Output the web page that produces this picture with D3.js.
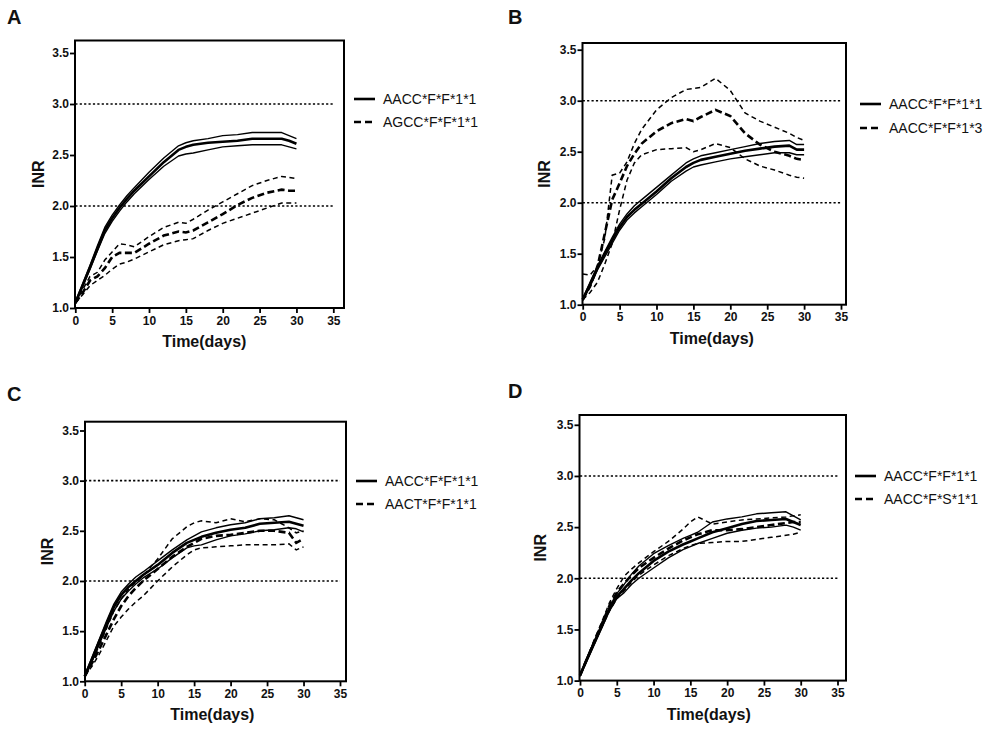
<!DOCTYPE html>
<html>
<head>
<meta charset="utf-8">
<script src="https://cdn.jsdelivr.net/npm/d3@7"></script>
<style>
  html, body { margin: 0; padding: 0; background: #fff; }
  svg { display: block; }
  text { font-family: "Liberation Sans", Arial, Helvetica, sans-serif; fill: #111; }
</style>
</head>
<body>
<svg id="chart" width="993" height="730"></svg>
<script>
// ---------------- DATA ----------------
const days = [0,1,2,3,4,5,6,7,8,10,12,14,15,16,18,20,22,24,26,28,29,30];
const xTicks = [0,5,10,15,20,25,30,35];
const yTicks = [1.0,1.5,2.0,2.5,3.0,3.5];
const refLines = [2.0, 3.0];
const panelLetters = ["A","B","C","D"];
const legendSolid = ["AACC*F*F*1*1","AACC*F*F*1*1","AACC*F*F*1*1","AACC*F*F*1*1"];
const legendDashed = ["AGCC*F*F*1*1","AACC*F*F*1*3","AACT*F*F*1*1","AACC*F*S*1*1"];

// Panel A
const aSolidMid = [1.05,1.22,1.40,1.58,1.76,1.88,1.98,2.07,2.15,2.29,2.43,2.55,2.58,2.60,2.62,2.63,2.64,2.66,2.66,2.66,2.64,2.61];
const aSolidHi  = [1.06,1.24,1.42,1.61,1.79,1.91,2.01,2.10,2.18,2.33,2.47,2.59,2.62,2.64,2.66,2.69,2.70,2.72,2.72,2.72,2.69,2.66];
const aSolidLo  = [1.04,1.21,1.38,1.56,1.73,1.85,1.95,2.04,2.12,2.26,2.39,2.49,2.51,2.52,2.55,2.58,2.59,2.60,2.60,2.60,2.58,2.56];
const aDashMid  = [1.05,1.15,1.27,1.31,1.39,1.50,1.54,1.54,1.54,1.63,1.71,1.75,1.74,1.76,1.84,1.92,2.01,2.08,2.13,2.16,2.15,2.15];
const aDashHi   = [1.05,1.18,1.31,1.35,1.47,1.55,1.63,1.62,1.60,1.70,1.79,1.84,1.83,1.87,1.96,2.04,2.12,2.20,2.25,2.29,2.28,2.27];
const aDashLo   = [1.05,1.13,1.22,1.27,1.32,1.38,1.43,1.45,1.48,1.55,1.62,1.66,1.67,1.68,1.76,1.83,1.88,1.93,1.98,2.03,2.03,2.03];

// Panel B
const bSolidMid = [1.05,1.20,1.36,1.50,1.63,1.76,1.86,1.93,1.99,2.11,2.24,2.35,2.39,2.42,2.45,2.48,2.51,2.53,2.55,2.56,2.52,2.52];
const bSolidHi  = [1.06,1.22,1.38,1.52,1.66,1.79,1.89,1.97,2.03,2.15,2.27,2.39,2.43,2.46,2.49,2.52,2.55,2.58,2.60,2.61,2.57,2.57];
const bSolidLo  = [1.04,1.18,1.34,1.47,1.60,1.73,1.83,1.90,1.96,2.08,2.21,2.31,2.35,2.37,2.40,2.43,2.45,2.47,2.49,2.49,2.47,2.47];
const bDashMid  = [1.05,1.18,1.37,1.70,2.03,2.19,2.36,2.48,2.58,2.70,2.78,2.82,2.80,2.84,2.91,2.85,2.68,2.57,2.50,2.46,2.43,2.42];
const bDashHi   = [1.30,1.29,1.38,1.65,2.27,2.29,2.40,2.58,2.72,2.91,3.03,3.11,3.12,3.13,3.22,3.10,2.88,2.80,2.74,2.68,2.64,2.61];
const bDashLo   = [1.05,1.12,1.22,1.40,1.60,1.93,2.22,2.39,2.47,2.52,2.53,2.54,2.50,2.52,2.58,2.54,2.43,2.36,2.32,2.27,2.25,2.24];

// Panel C
const cSolidMid = [1.05,1.22,1.40,1.57,1.74,1.86,1.94,2.00,2.06,2.16,2.28,2.38,2.41,2.44,2.48,2.51,2.53,2.57,2.58,2.59,2.57,2.55];
const cSolidHi  = [1.06,1.24,1.42,1.60,1.77,1.89,1.97,2.04,2.09,2.20,2.31,2.41,2.45,2.49,2.53,2.56,2.58,2.62,2.63,2.65,2.63,2.61];
const cSolidLo  = [1.04,1.20,1.37,1.54,1.70,1.82,1.90,1.97,2.03,2.12,2.23,2.33,2.35,2.36,2.41,2.45,2.47,2.50,2.51,2.53,2.52,2.49];
const cDashMid  = [1.05,1.18,1.32,1.47,1.62,1.75,1.85,1.93,2.00,2.12,2.24,2.34,2.38,2.42,2.45,2.46,2.48,2.50,2.50,2.48,2.38,2.42];
const cDashHi   = [1.05,1.20,1.36,1.53,1.70,1.82,1.92,1.99,2.05,2.22,2.42,2.54,2.58,2.60,2.58,2.62,2.59,2.62,2.61,2.53,2.48,2.50];
const cDashLo   = [1.05,1.15,1.27,1.41,1.55,1.64,1.72,1.79,1.85,2.00,2.14,2.26,2.31,2.33,2.34,2.35,2.36,2.36,2.36,2.37,2.31,2.34];

// Panel D
const dSolidMid = [1.05,1.22,1.38,1.54,1.70,1.82,1.90,1.98,2.05,2.17,2.26,2.33,2.36,2.39,2.45,2.49,2.53,2.56,2.57,2.58,2.55,2.52];
const dSolidHi  = [1.06,1.23,1.40,1.56,1.72,1.85,1.94,2.04,2.12,2.24,2.32,2.39,2.42,2.45,2.55,2.58,2.60,2.63,2.64,2.65,2.61,2.57];
const dSolidLo  = [1.04,1.20,1.36,1.52,1.68,1.80,1.86,1.94,2.00,2.10,2.20,2.28,2.31,2.34,2.39,2.44,2.47,2.49,2.50,2.52,2.50,2.47];
const dDashMid  = [1.05,1.22,1.39,1.56,1.73,1.86,1.95,2.03,2.10,2.20,2.29,2.37,2.40,2.43,2.47,2.47,2.48,2.50,2.52,2.54,2.55,2.55];
const dDashHi   = [1.05,1.23,1.41,1.58,1.76,1.90,2.02,2.09,2.15,2.26,2.36,2.48,2.55,2.60,2.53,2.55,2.57,2.58,2.59,2.60,2.61,2.62];
const dDashLo   = [1.05,1.21,1.37,1.53,1.68,1.80,1.88,1.96,2.03,2.13,2.22,2.29,2.32,2.34,2.35,2.36,2.36,2.38,2.40,2.42,2.43,2.45];

const panelSeries = [
  {solid:[aSolidMid,aSolidHi,aSolidLo], dash:[aDashMid,aDashHi,aDashLo]},
  {solid:[bSolidMid,bSolidHi,bSolidLo], dash:[bDashMid,bDashHi,bDashLo]},
  {solid:[cSolidMid,cSolidHi,cSolidLo], dash:[cDashMid,cDashHi,cDashLo]},
  {solid:[dSolidMid,dSolidHi,dSolidLo], dash:[dDashMid,dDashHi,dDashLo]}
];

// ---------------- LAYOUT ----------------
const layouts = [
  {x0:75.3, x35:333.3, y1:308,   y35:53,    boxL:75,    boxR:344, boxT:40.5,  letterX:7,   letterY:24,  legX:354, legY:99,  legGap:23, inrX:44},
  {x0:582.7,x35:841,   y1:304.7, y35:49.7,  boxL:582.5, boxR:846, boxT:43,    letterX:508, letterY:24,  legX:860, legY:104, legGap:24, inrX:550},
  {x0:84.7, x35:340,   y1:681.3, y35:430.5, boxL:85,    boxR:346, boxT:421.7, letterX:7,   letterY:401, legX:356, legY:481, legGap:23, inrX:53},
  {x0:580,  x35:837.5, y1:680.6, y35:424.8, boxL:579.5, boxR:846, boxT:415,   letterX:508, letterY:398, legX:855, legY:476, legGap:23, inrX:546}
];

const svg = d3.select("#chart");

layouts.forEach((L, i) => {
  const g = svg.append("g");
  const x = d3.scaleLinear().domain([0, 35]).range([L.x0, L.x35]);
  const y = d3.scaleLinear().domain([1.0, 3.5]).range([L.y1, L.y35]);

  // panel letter
  g.append("text").attr("x", L.letterX).attr("y", L.letterY)
    .style("font-size", "20px").style("font-weight", "bold").text(panelLetters[i]);

  // reference dotted lines
  refLines.forEach(v => {
    g.append("line")
      .attr("x1", x(0)).attr("x2", x(35))
      .attr("y1", y(v)).attr("y2", y(v))
      .attr("stroke", "#000").attr("stroke-width", 1.6)
      .attr("stroke-dasharray", "2.2,2.2");
  });

  // lines
  const line = d3.line().x((d, k) => x(days[k])).y(d => y(d));
  const S = panelSeries[i];
  // CI lines (thin)
  [S.solid[1], S.solid[2]].forEach(arr => {
    g.append("path").attr("d", line(arr)).attr("fill", "none")
      .attr("stroke", "#000").attr("stroke-width", 1.4).attr("stroke-linejoin", "round");
  });
  [S.dash[1], S.dash[2]].forEach(arr => {
    g.append("path").attr("d", line(arr)).attr("fill", "none")
      .attr("stroke", "#000").attr("stroke-width", 1.5).attr("stroke-dasharray", "5,3.5");
  });
  // mean lines (thick)
  g.append("path").attr("d", line(S.solid[0])).attr("fill", "none")
    .attr("stroke", "#000").attr("stroke-width", 2.6).attr("stroke-linejoin", "round");
  g.append("path").attr("d", line(S.dash[0])).attr("fill", "none")
    .attr("stroke", "#000").attr("stroke-width", 2.6).attr("stroke-dasharray", "7,3.5");

  // frame box
  g.append("rect").attr("x", L.boxL).attr("y", L.boxT)
    .attr("width", L.boxR - L.boxL).attr("height", L.y1 - L.boxT)
    .attr("fill", "none").attr("stroke", "#000").attr("stroke-width", 2);

  // axes
  const yAxis = d3.axisLeft(y).tickValues(yTicks).tickFormat(d3.format(".1f")).tickSize(5).tickPadding(1);
  const xAxis = d3.axisBottom(x).tickValues(xTicks).tickFormat(d3.format("d")).tickSize(5).tickPadding(3);
  const ya = g.append("g").attr("transform", `translate(${L.boxL},0)`).call(yAxis);
  const xa = g.append("g").attr("transform", `translate(0,${L.y1})`).call(xAxis);
  [ya, xa].forEach(a => {
    a.select(".domain").remove();
    a.selectAll(".tick line").attr("stroke", "#000").attr("stroke-width", 1.8);
    a.selectAll(".tick text").style("font-size", "12px").style("font-weight", "bold")
      .style("font-family", "'Liberation Sans', Arial, sans-serif").attr("fill", "#111");
  });

  // axis titles
  g.append("text")
    .attr("transform", `translate(${L.inrX},${(L.boxT + L.y1) / 2}) rotate(-90)`)
    .attr("text-anchor", "middle")
    .style("font-size", "16px").style("font-weight", "bold").text("INR");
  g.append("text")
    .attr("x", (x(0) + x(35)) / 2).attr("y", L.y1 + 39)
    .attr("text-anchor", "middle")
    .style("font-size", "16px").style("font-weight", "bold").text("Time(days)");

  // legend
  const leg = g.append("g");
  leg.append("line").attr("x1", L.legX).attr("x2", L.legX + 21)
    .attr("y1", L.legY).attr("y2", L.legY).attr("stroke", "#000").attr("stroke-width", 2.6);
  leg.append("line").attr("x1", L.legX).attr("x2", L.legX + 21)
    .attr("y1", L.legY + L.legGap).attr("y2", L.legY + L.legGap)
    .attr("stroke", "#000").attr("stroke-width", 2.6).attr("stroke-dasharray", "7,4");
  leg.append("text").attr("x", L.legX + 29).attr("y", L.legY + 5)
    .style("font-size", "14px").text(legendSolid[i]);
  leg.append("text").attr("x", L.legX + 29).attr("y", L.legY + L.legGap + 5)
    .style("font-size", "14px").text(legendDashed[i]);
});
</script>
</body>
</html>
